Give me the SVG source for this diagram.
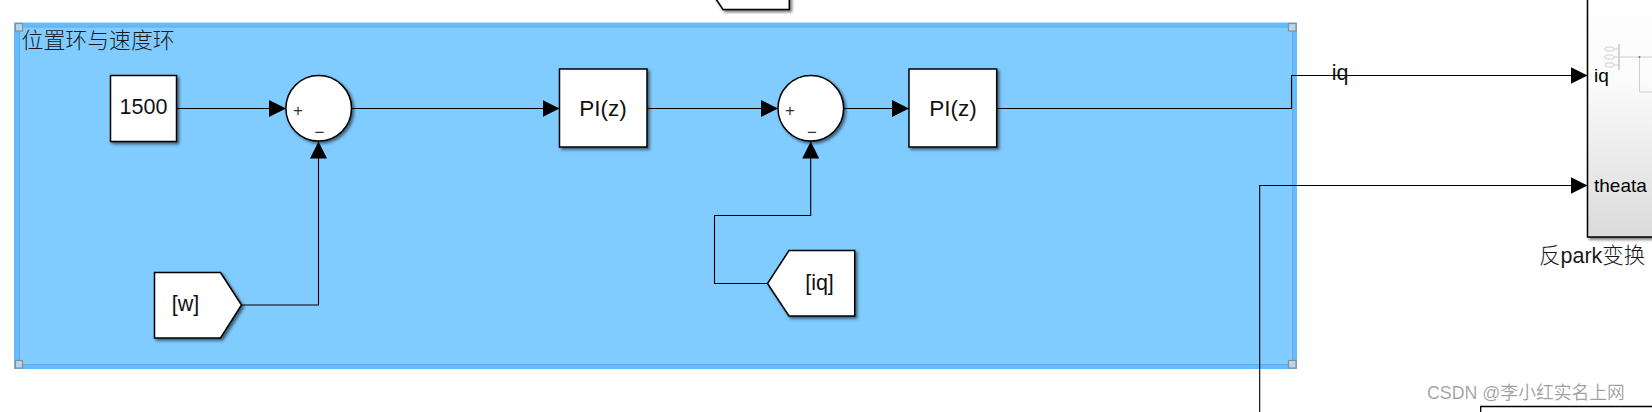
<svg xmlns="http://www.w3.org/2000/svg" width="1652" height="412" viewBox="0 0 1652 412">
<defs>
<filter id="sh" x="-20%" y="-20%" width="150%" height="150%"><feDropShadow dx="2" dy="2" stdDeviation="1.5" flood-color="#000" flood-opacity="0.55"/></filter>
<linearGradient id="grad" x1="0" y1="0" x2="0" y2="1"><stop offset="0" stop-color="#ffffff"/><stop offset="0.4" stop-color="#fbfbfb"/><stop offset="1" stop-color="#dadada"/></linearGradient>
<marker id="arr" markerUnits="userSpaceOnUse" markerWidth="17" markerHeight="17" refX="17" refY="8.5" orient="auto"><path d="M0 0L17 8.5L0 17Z" fill="#000"/></marker>
</defs>
<style>
.b{fill:#fff;stroke:#000;stroke-width:1.5;filter:url(#sh)}
.c{fill:none;stroke:#000;stroke-width:1.1}
.a{marker-end:url(#arr)}
.t{font-family:"Liberation Sans",Arial,sans-serif;font-size:21.500px;fill:#111;text-anchor:middle}
.s{font-family:"Liberation Sans",Arial,sans-serif;font-size:19px;fill:#000}
.cj{font-family:"Liberation Sans","Noto Sans CJK SC",sans-serif;font-size:21.500px;font-weight:300;fill:#1a1a1a}
.h{fill:#dfe8f0;fill-opacity:.65;stroke:#8c8c8c;stroke-width:1.2}
.g{fill:none;stroke:#cfcfcf;stroke-width:1}
.p{font-family:"Liberation Sans",Arial,sans-serif;font-size:17px;fill:#333;text-anchor:middle}
</style>
<rect width="1652" height="412" fill="#fff"/>
<g id="area">
<rect x="14" y="22.500" width="1283" height="346.500" fill="#64bcfd"/>
<rect x="19.500" y="27" width="1273" height="337.500" fill="#80cbff" stroke="#6aa9dc" stroke-width="1"/>
<text class="cj" x="21.500" y="48" style="font-size:21.900px">位置环与速度环</text>
</g>
<g id="top-block"><path class="b" d="M714 -4L723 9.500H789.300V-4Z"/></g>
<g id="right-block">
<rect class="b" x="1587.500" y="-20" width="90" height="257" style="fill:url(#grad)"/>
<g id="ghost">
<path class="g" d="M1619 44V70" style="stroke-width:1.800"/>
<path class="g" d="M1614 49H1619M1614 57H1652M1614 65H1619M1639.500 57V92H1652"/>
<rect class="g" x="1605" y="47" width="9" height="4" rx="2"/><rect class="g" x="1605" y="55" width="9" height="4" rx="2"/><rect class="g" x="1605" y="63" width="9" height="4" rx="2"/>
<circle cx="1639.500" cy="57" r="1" fill="#777"/>
</g>
<text class="s" x="1594" y="82">iq</text>
<text class="s" x="1594" y="192">theata</text>
<text class="cj" x="1539" y="263">反park变换</text>
</g>
<g id="bottom-block"><path d="M1652 406.500H1480.700V420" fill="#fff" stroke="#000" stroke-width="1.300"/></g>
<g id="connectors">
<path class="c a" d="M176.500 108.500H286"/>
<path class="c a" d="M241.500 305H318.500V141.500"/>
<path class="c a" d="M351.500 108.500H559.500"/>
<path class="c a" d="M647 108.500H778"/>
<path class="c a" d="M844 108.500H909"/>
<path class="c a" d="M767.500 283.500H714.500V215.500H810.700V141.500"/>
<path class="c a" d="M996.700 108.500H1291.500V75.500H1587.500"/>
<path class="c a" d="M1259.700 412V185.500H1587.500"/>
<text class="t" x="1340" y="80">iq</text>
</g>
<g id="const-1500"><rect class="b" x="110.500" y="75.500" width="66" height="66"/><text class="t" x="143.500" y="114">1500</text></g>
<g id="sum-1"><circle class="b" cx="318.700" cy="108.300" r="32.800"/><text class="p" x="298" y="115.500">+</text><text class="p" x="319.500" y="137.500">−</text></g>
<g id="pi-1"><rect class="b" x="559.500" y="69" width="87.500" height="78"/><text class="t" x="603" y="116" style="font-size:22.500px">PI(z)</text></g>
<g id="sum-2"><circle class="b" cx="810.800" cy="108.300" r="32.800"/><text class="p" x="790" y="115.500">+</text><text class="p" x="812" y="137.500">−</text></g>
<g id="pi-2"><rect class="b" x="909" y="69" width="87.700" height="78"/><text class="t" x="953" y="116" style="font-size:22.500px">PI(z)</text></g>
<g id="goto-w"><path class="b" d="M154.500 272.500H220.500L241.500 305L220.500 338H154.500Z"/><text class="t" x="185.500" y="310.500">[w]</text></g>
<g id="from-iq"><path class="b" d="M854.700 250.500H789L767.500 283.500L789 316H854.700Z"/><text class="t" x="819.500" y="289.500">[iq]</text></g>
<g id="handles">
<rect class="h" x="15.500" y="23.500" width="7" height="7.500"/>
<rect class="h" x="1288.500" y="23.500" width="7.500" height="7.500"/>
<rect class="h" x="15.500" y="360.500" width="7" height="7.500"/>
<rect class="h" x="1288.500" y="360.500" width="7.500" height="7.500"/>
</g>
<text x="1427" y="399" style="font-family:'Liberation Sans','Noto Sans CJK SC',sans-serif;font-size:17.800px;fill:#000;fill-opacity:.38">CSDN @李小红实名上网</text>
</svg>
